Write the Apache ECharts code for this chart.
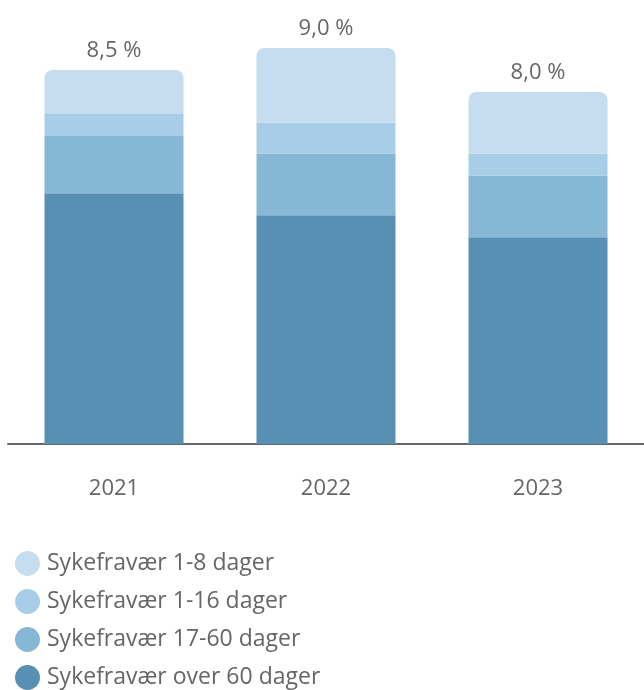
<!DOCTYPE html>
<html>
<head>
<meta charset="utf-8">
<script src="https://cdn.jsdelivr.net/npm/echarts@6/dist/echarts.min.js"></script>
<style>
html,body{margin:0;padding:0;background:#fff;}
#chart{width:644px;height:690px;}
</style>
</head>
<body>
<div id="chart"></div>
<script>
const years = ['2021', '2022', '2023'];
const seriesNames = ['Sykefravær 1-8 dager', 'Sykefravær 1-16 dager', 'Sykefravær 17-60 dager', 'Sykefravær over 60 dager'];
const over60 = [5.7, 5.2, 4.7];
const d17to60 = [1.3, 1.4, 1.4];
const d1to16 = [0.5, 0.7, 0.5];
const d1to8 = [1.0, 1.7, 1.4];
const totals = [8.5, 9.0, 8.0];

const colors = {
  'Sykefravær 1-8 dager': '#c6ddf0',
  'Sykefravær 1-16 dager': '#a7cee6',
  'Sykefravær 17-60 dager': '#86b7d5',
  'Sykefravær over 60 dager': '#5790b2'
};
const FONT = '"Open Sans", Lato, sans-serif';
const TXT = '#666666';

const chart = echarts.init(document.getElementById('chart'), null, {renderer: 'canvas'});

function mk(name, data, extra) {
  return Object.assign({
    name: name,
    type: 'bar',
    stack: 'total',
    barWidth: 139,
    data: data,
    itemStyle: {color: colors[name]},
    emphasis: {disabled: true}
  }, extra || {});
}

chart.setOption({
  animation: false,
  textStyle: {fontFamily: FONT},
  grid: {left: 8, width: 640, top: 4, bottom: 246, containLabel: false},
  xAxis: {
    type: 'category',
    data: years,
    axisLine: {lineStyle: {color: '#666666', width: 2}},
    axisTick: {show: false},
    axisLabel: {color: TXT, fontSize: 22, fontFamily: FONT, margin: 34}
  },
  yAxis: {type: 'value', min: 0, max: 10, show: false, splitLine: {show: false}},
  legend: {
    orient: 'vertical',
    left: 10,
    top: 546,
    height: 160,
    icon: 'circle',
    itemWidth: 25,
    itemHeight: 25,
    itemGap: 13,
    data: seriesNames,
    textStyle: {color: TXT, fontSize: 23, fontFamily: FONT, padding: [0, 0, 0, 2]},
    selectedMode: false
  },
  series: [
    mk('Sykefravær over 60 dager', over60),
    mk('Sykefravær 17-60 dager', d17to60),
    mk('Sykefravær 1-16 dager', d1to16),
    mk('Sykefravær 1-8 dager', d1to8, {
      itemStyle: {color: colors['Sykefravær 1-8 dager'], borderRadius: [8, 8, 0, 0]},
      label: {
        show: true,
        position: 'top',
        distance: 8,
        color: TXT,
        fontSize: 22,
        fontFamily: FONT,
        formatter: function (p) { return totals[p.dataIndex].toFixed(1).replace('.', ',') + ' %'; }
      }
    })
  ]
});
</script>
</body>
</html>
